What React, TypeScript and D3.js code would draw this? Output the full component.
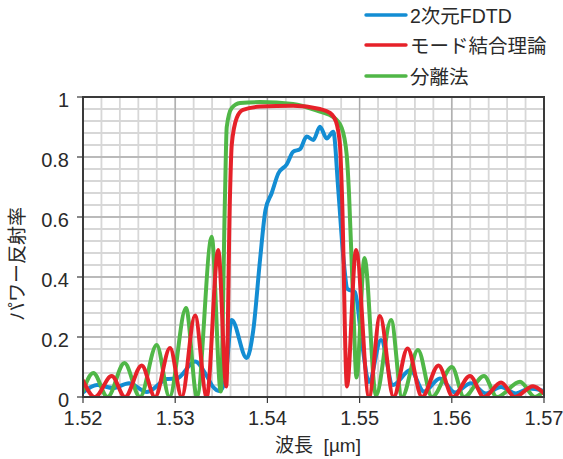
import React from "react";
import * as d3 from "d3";

// ---- data ----
const xTicks = [1.52, 1.53, 1.54, 1.55, 1.56, 1.57];
const xTickLabels = ["1.52", "1.53", "1.54", "1.55", "1.56", "1.57"];
const yTicks = [0, 0.2, 0.4, 0.6, 0.8, 1];
const yTickLabels = ["0", "0.2", "0.4", "0.6", "0.8", "1"];

const seriesNames = ["2次元FDTD", "モード結合理論", "分離法"];

const fdtdWl = [1.52, 1.52152, 1.52325, 1.52499, 1.52694, 1.52911, 1.5302, 1.53215, 1.53342, 1.5341, 1.53475, 1.5354, 1.53613, 1.53775, 1.53847, 1.5392, 1.53979, 1.54047, 1.54118, 1.54209, 1.54281, 1.54354, 1.54426, 1.54498, 1.5457, 1.54643, 1.54715, 1.54769, 1.54823, 1.54869, 1.5495, 1.55026, 1.55102, 1.55232, 1.55362, 1.55552, 1.55698, 1.55872, 1.56035, 1.56208, 1.56371, 1.56534, 1.56696, 1.56837, 1.57];
const fdtdR = [0.015, 0.04, 0.03, 0.046, 0.017, 0.06, 0.062, 0.118, 0.07, 0.034, 0.02, 0.05, 0.257, 0.13, 0.223, 0.457, 0.623, 0.68, 0.745, 0.775, 0.818, 0.826, 0.868, 0.857, 0.901, 0.862, 0.884, 0.69, 0.468, 0.36, 0.35, 0.18, 0.05, 0.19, 0.04, 0.09, 0.018, 0.062, 0.015, 0.046, 0.012, 0.033, 0.012, 0.028, 0.02];

const cmtWl = [1.52, 1.5213, 1.52311, 1.52456, 1.52637, 1.52781, 1.52944, 1.53071, 1.53215, 1.53342, 1.53467, 1.53554, 1.53594, 1.53613, 1.53667, 1.53735, 1.5392, 1.54278, 1.5457, 1.54679, 1.54744, 1.54787, 1.54809, 1.54863, 1.54961, 1.55102, 1.55221, 1.55368, 1.5552, 1.55677, 1.55856, 1.56013, 1.56197, 1.56349, 1.56534, 1.56685, 1.56881, 1.57];
const cmtR = [0.055, 0.0, 0.07, 0.0, 0.105, 0.0, 0.163, 0.0, 0.272, 0.0, 0.49, 0.035, 0.67, 0.84, 0.93, 0.957, 0.968, 0.971, 0.96, 0.947, 0.918, 0.84, 0.673, 0.035, 0.49, 0.0, 0.27, 0.0, 0.162, 0.0, 0.105, 0.0, 0.07, 0.0, 0.048, 0.0, 0.036, 0.012];

const sepWl = [1.52, 1.52112, 1.52266, 1.5245, 1.52618, 1.52799, 1.52938, 1.53117, 1.53236, 1.53396, 1.53494, 1.5354, 1.53559, 1.53613, 1.53703, 1.5392, 1.54278, 1.5457, 1.54712, 1.54806, 1.5486, 1.54885, 1.54932, 1.54966, 1.55053, 1.55178, 1.55341, 1.5546, 1.55633, 1.55785, 1.56002, 1.56132, 1.56349, 1.5649, 1.5674, 1.56902, 1.57];
const sepR = [0.02, 0.08, 0.0, 0.113, 0.0, 0.173, 0.0, 0.297, 0.0, 0.534, 0.018, 0.67, 0.9, 0.963, 0.98, 0.983, 0.977, 0.951, 0.934, 0.897, 0.807, 0.68, 0.3, 0.065, 0.463, 0.005, 0.257, 0.0, 0.157, 0.0, 0.1, 0.0, 0.07, 0.0, 0.051, 0.0, 0.02];

const COLORS = ["#138dd3", "#e62129", "#50b747"];

export default function App() {
  const W = 563, H = 459;
  const left = 83, right = 544, top = 97, bottom = 397;
  const x = d3.scaleLinear().domain([1.52, 1.57]).range([left, right]);
  const y = d3.scaleLinear().domain([0, 1]).range([bottom, top]);

  const line = d3
    .line<[number, number]>()
    .x((d) => x(d[0]))
    .y((d) => y(d[1]))
    .curve(d3.curveMonotoneX);

  const zip = (a: number[], b: number[]) => a.map((v, i) => [v, b[i]] as [number, number]);
  const series = [
    { name: seriesNames[0], data: zip(fdtdWl, fdtdR), color: COLORS[0] },
    { name: seriesNames[1], data: zip(cmtWl, cmtR), color: COLORS[1] },
    { name: seriesNames[2], data: zip(sepWl, sepR), color: COLORS[2] },
  ];
  const drawOrder = [series[0], series[2], series[1]];

  const xMinor = d3.range(0, 26).map((i) => 1.52 + i * 0.002);
  const yMinor = d3.range(0, 26).map((i) => i * 0.04);

  const latin = "'Liberation Sans', Arial, 'Noto Sans CJK JP', sans-serif";
  const textColor = "#2a2a2a";

  return (
    <svg
      width={W}
      height={H}
      style={{ position: "absolute", left: 0, top: 0, background: "#fff" }}
      fontFamily={latin}
    >
      <defs>
        <clipPath id="plotClip">
          <rect x={left} y={top} width={right - left} height={bottom - top} />
        </clipPath>
      </defs>
      <rect x={0} y={0} width={W} height={H} fill="#fff" />
      {/* minor grid */}
      {xMinor.map((v, i) => (
        <line key={"xm" + i} x1={x(v)} x2={x(v)} y1={top} y2={bottom} stroke="#d7d7d7" strokeWidth={1.8} />
      ))}
      {yMinor.map((v, i) => (
        <line key={"ym" + i} x1={left} x2={right} y1={y(v)} y2={y(v)} stroke="#d7d7d7" strokeWidth={1.8} />
      ))}
      {/* major grid */}
      {xTicks.map((v, i) => (
        <line key={"xM" + i} x1={x(v)} x2={x(v)} y1={top} y2={bottom} stroke="#a8a8a8" strokeWidth={1.2} />
      ))}
      {yTicks.map((v, i) => (
        <line key={"yM" + i} x1={left} x2={right} y1={y(v)} y2={y(v)} stroke="#b0b0b0" strokeWidth={1.6} />
      ))}
      {/* curves */}
      <g clipPath="url(#plotClip)">
        {drawOrder.map((s) => (
          <path
            key={s.name}
            d={line(s.data) || ""}
            fill="none"
            stroke={s.color}
            strokeWidth={4}
            strokeLinejoin="round"
            strokeLinecap="round"
          />
        ))}
      </g>
      {/* frame */}
      <rect x={left} y={top} width={right - left} height={bottom - top} fill="none" stroke="#3a3a3a" strokeWidth={2} />
      {/* ticks */}
      {xTicks.map((v, i) => (
        <line key={"xt" + i} x1={x(v)} x2={x(v)} y1={bottom} y2={bottom + 6} stroke="#3a3a3a" strokeWidth={1.2} />
      ))}
      {yTicks.map((v, i) => (
        <line key={"yt" + i} x1={left - 6} x2={left} y1={y(v)} y2={y(v)} stroke="#3a3a3a" strokeWidth={1.2} />
      ))}
      {/* tick labels */}
      {xTicks.map((v, i) => (
        <text key={"xl" + i} x={x(v)} y={425} textAnchor="middle" fontSize={20} fill={textColor}>
          {xTickLabels[i]}
        </text>
      ))}
      {yTicks.map((v, i) => (
        <text key={"yl" + i} x={69} y={y(v) + 10} textAnchor="end" fontSize={20} fill={textColor}>
          {yTickLabels[i]}
        </text>
      ))}
      {/* axis titles */}
      <text x={318} y={452} textAnchor="middle" fontSize={19} fill={textColor} xmlSpace="preserve">
        {"波長  [µm]"}
      </text>
      <text transform="translate(24,264) rotate(-90)" textAnchor="middle" fontSize={19} fill={textColor}>
        パワー反射率
      </text>
      {/* legend */}
      {series.map((s, i) => {
        const ly = [15, 45, 76][i];
        return (
          <g key={"lg" + i}>
            <line x1={366} x2={406} y1={ly} y2={ly} stroke={s.color} strokeWidth={3.4} strokeLinecap="round" />
            <text x={410} y={ly + 8} fontSize={19.5} fill={textColor}>
              {s.name}
            </text>
          </g>
        );
      })}
    </svg>
  );
}
